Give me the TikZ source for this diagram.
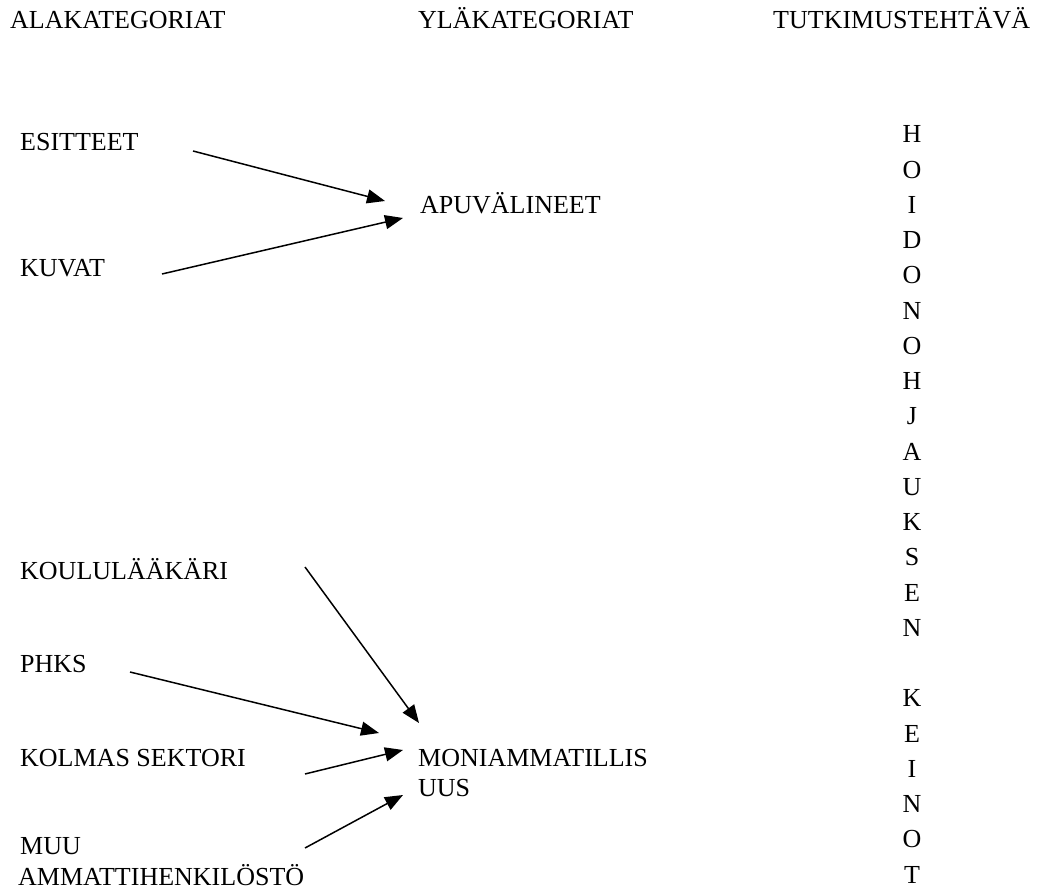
\documentclass[tikz,border=0pt]{standalone}
\usepackage{fontspec}
\setmainfont{Liberation Serif}
\usepackage{tikz}
\usetikzlibrary{
	arrows.meta,
	positioning
}

\begin{document}
\begin{tikzpicture}[x=1pt, y=-1pt,
		lbl/.style={anchor=base west, inner sep=0pt, font=\fontsize{26}{30}\selectfont},
		vlbl/.style={anchor=base, inner sep=0pt, font=\fontsize{26}{30}\selectfont},
		arr/.style={line width=1.5pt, -{Triangle[length=18pt, width=14pt]}}]
		\useasboundingbox (0,0) rectangle (1055,890);
		
		% otsikot
		\node[lbl] (ala) at (10,29) {ALAKATEGORIAT};
		\node[lbl] (yla) at (418,29) {YLÄKATEGORIAT};
		\node[lbl] (teht) at (773,29) {TUTKIMUSTEHTÄVÄ};
		
		% alakategoriat
		\node[lbl] (esit) at (20,151) {ESITTEET};
		\node[lbl] (kuvat) at (20,277) {KUVAT};
		\node[lbl] (laak) at (20,579) {KOULULÄÄKÄRI};
		\node[lbl] (phks) at (20,672) {PHKS};
		\node[lbl] (kolm) at (20,766) {KOLMAS SEKTORI};
		\node[lbl] (muu) at (20,854) {MUU};
		\node[lbl] (ammt) at (18,885) {AMMATTIHENKILÖSTÖ};
		
		% yläkategoriat
		\node[lbl] (apu) at (420,214) {APUVÄLINEET};
		\node[lbl] (moni) at (418,766) {MONIAMMATILLIS};
		\node[lbl] (uus) at (418,796) {UUS};
		
		% tutkimustehtävä pystyyn
		\foreach \i/\ch in {0/H,1/O,2/I,3/D,4/O,5/N,6/O,7/H,8/J,9/A,10/U,11/K,12/S,13/E,14/N,
				16/K,17/E,18/I,19/N,20/O,21/T}
			\node[vlbl] (v\i) at (912,{143+35.24*\i}) {\ch};
		
		% nuolten päät
		\coordinate (esit-a) at (193,151);
		\coordinate (esit-b) at (385,201);
		\coordinate (kuvat-a) at (162,274);
		\coordinate (kuvat-b) at (403,218);
		\coordinate (laak-a) at (305,567);
		\coordinate (laak-b) at (419,723);
		\coordinate (phks-a) at (130,672);
		\coordinate (phks-b) at (379,733);
		\coordinate (kolm-a) at (305,774);
		\coordinate (kolm-b) at (403,750);
		\coordinate (muu-a) at (305,848);
		\coordinate (muu-b) at (403,795);
		
		\draw[arr] (esit-a) -- (esit-b);
		\draw[arr] (kuvat-a) -- (kuvat-b);
		\draw[arr] (laak-a) -- (laak-b);
		\draw[arr] (phks-a) -- (phks-b);
		\draw[arr] (kolm-a) -- (kolm-b);
		\draw[arr] (muu-a) -- (muu-b);
	\end{tikzpicture}
\end{document}
